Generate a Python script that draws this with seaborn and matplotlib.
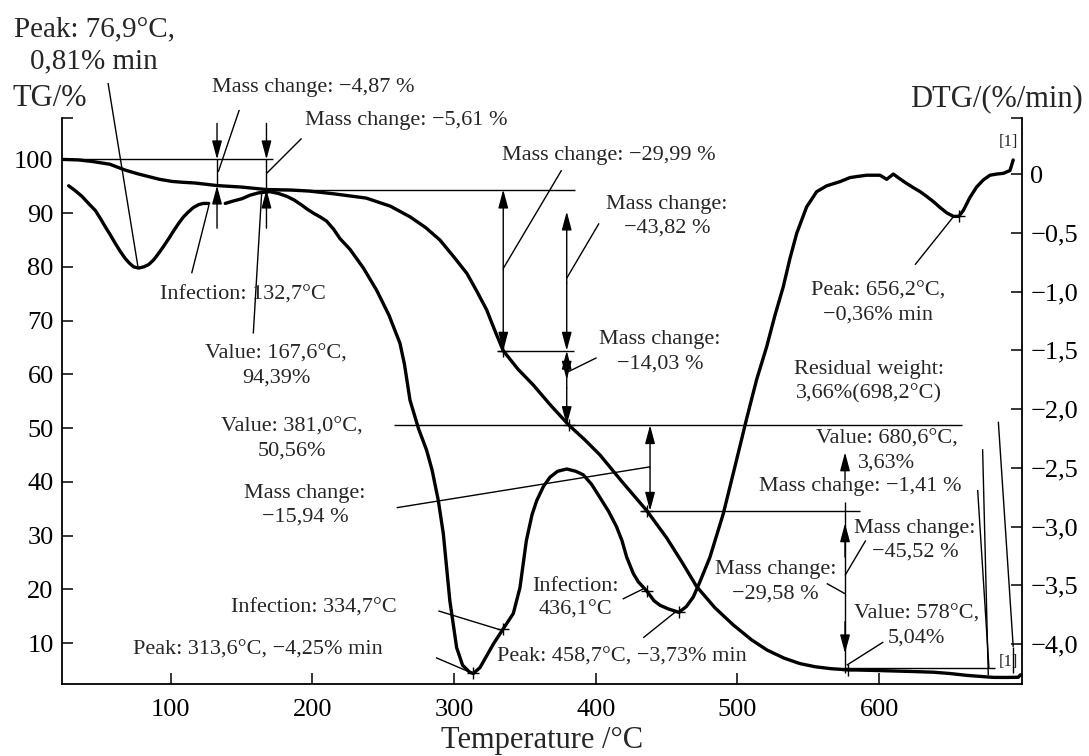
import numpy as np
import pandas as pd
import matplotlib
matplotlib.use("Agg")
import matplotlib.pyplot as plt
import seaborn as sns

# ---------------- data ----------------
tg_temp = [23, 35, 45, 57, 68, 77, 84.5, 92, 100.9, 108, 117.4, 132.7, 150, 167.6, 185,
           198, 215, 238, 255, 269, 280, 290, 300, 309, 316, 323, 329, 334.7, 345, 356,
           368, 381, 392, 403, 418, 436.1, 450, 461, 471, 484, 497, 510, 521, 533, 544,
           555, 566, 578, 600, 620, 638, 650, 662, 672, 680.6, 690, 698.2, 699.6]
tg_mass = [100.0, 99.9, 99.6, 99.1, 98.0, 97.3, 96.8, 96.3, 95.9, 95.75, 95.6, 95.13,
           94.85, 94.39, 94.3, 94.1, 93.6, 92.8, 91.3, 89.3, 87.3, 85.0, 81.8, 78.8,
           75.5, 72.0, 68.0, 64.4, 61.0, 58.0, 54.3, 50.56, 47.9, 45.0, 40.2, 34.62,
           29.6, 25.0, 20.6, 16.6, 13.4, 10.6, 8.7, 7.2, 6.2, 5.6, 5.25, 5.04, 4.9,
           4.75, 4.6, 4.35, 4.0, 3.8, 3.63, 3.62, 3.66, 4.1]

dtg_temp = [28, 32.5, 37.4, 42, 46.8, 50.5, 53.9, 57.5, 60.9, 64.5, 68, 71, 73.9, 77.4,
            81, 84.5, 88, 91.5, 95, 98.6, 102, 105.6, 109, 112.7, 116, 119.8, 123, 126.8,
            138.5, 144, 150.3, 156, 162, 170, 176, 182, 187, 192, 196.5, 201, 205.5, 210,
            215, 219.5, 226.5, 236, 245.4, 254, 261.8, 265, 268.9, 275, 280.6, 284.5,
            288.9, 292.4, 297, 301.8, 306, 311, 313.6, 318.3, 323, 327.7, 334.7, 341.8,
            346.5, 351, 355, 358.3, 363, 367.7, 373, 379.5, 386, 391.2, 397, 402.8, 409,
            414.6, 418.5, 421.8, 426.5, 430, 436.1, 441, 445.3, 451, 458.7, 464, 468.8,
            473.5, 480.6, 490, 498, 506.5, 513.5, 520.6, 526.5, 532.3, 537, 541.8, 548.8,
            555.9, 563, 572.3, 579.4, 585, 591.2, 600.6, 605.3, 610, 614.5, 619.4, 624,
            628.9, 633.5, 638.3, 643, 647.7, 652.3, 656.2, 659.4, 664, 668.8, 673.5,
            678.2, 683, 687.6, 692.3, 694.6]
dtg_rate = [-0.10, -0.14, -0.19, -0.25, -0.31, -0.38, -0.45, -0.52, -0.59, -0.66, -0.72,
            -0.76, -0.79, -0.80, -0.79, -0.77, -0.73, -0.675, -0.615, -0.55, -0.485,
            -0.42, -0.365, -0.32, -0.285, -0.26, -0.25, -0.25,
            -0.25, -0.23, -0.21, -0.18, -0.16, -0.15, -0.165, -0.19, -0.22, -0.26,
            -0.30, -0.335, -0.365, -0.40, -0.47, -0.55, -0.64, -0.80, -0.99, -1.20,
            -1.44, -1.62, -1.925, -2.17, -2.35, -2.52, -2.78, -3.06, -3.63, -4.03,
            -4.18, -4.24, -4.25, -4.20, -4.10, -4.00, -3.87, -3.74, -3.52, -3.12,
            -2.90, -2.78, -2.66, -2.58, -2.53, -2.51, -2.53, -2.56, -2.64, -2.75,
            -2.87, -3.00, -3.12, -3.26, -3.40, -3.47, -3.55, -3.63, -3.67, -3.70,
            -3.73, -3.68, -3.60, -3.47, -3.26, -2.89, -2.50, -2.08, -1.75, -1.47,
            -1.20, -0.96, -0.72, -0.505, -0.28, -0.15, -0.10, -0.065, -0.03, -0.02,
            -0.01, -0.01, -0.045, 0.0, -0.04, -0.08, -0.115, -0.15, -0.19, -0.235,
            -0.285, -0.33, -0.36, -0.36, -0.31, -0.20, -0.11, -0.05, -0.01, 0.0,
            0.006, 0.03, 0.12]

# marked points
tg_mark_temp = [334.7, 381.0, 436.1, 578.0]
tg_mark_mass = [64.4, 50.56, 34.62, 5.04]
dtg_mark_temp = [313.6, 334.7, 436.1, 458.7, 656.2]
dtg_mark_rate = [-4.25, -3.87, -3.55, -3.73, -0.36]

x_ticks = [100, 200, 300, 400, 500, 600]
tg_ticks = [10, 20, 30, 40, 50, 60, 70, 80, 90, 100]
dtg_ticks = [0, -0.5, -1.0, -1.5, -2.0, -2.5, -3.0, -3.5, -4.0]
dtg_tick_labels = ["0", "\u22120,5", "\u22121,0", "\u22121,5", "\u22122,0",
                   "\u22122,5", "\u22123,0", "\u22123,5", "\u22124,0"]

x_lim = (23.3, 700.8)
tg_lim = (2.4, 107.7)
dtg_lim = (-4.34, 0.477)

# ---------------- figure ----------------
sns.set_theme(style="ticks")
plt.rcParams["font.family"] = ["Liberation Serif", "DejaVu Serif"]

fig = plt.figure(figsize=(10.89, 7.56), dpi=100)
ax = fig.add_axes([62 / 1089, 72 / 756, 960 / 1089, 566 / 756])
ax2 = ax.twinx()

tg_df = pd.DataFrame({"T": tg_temp, "TG": tg_mass})
dtg_df = pd.DataFrame({"T": dtg_temp, "DTG": dtg_rate})
dtg_df["segment"] = (dtg_df["T"] > 132.7).astype(int)

sns.lineplot(data=tg_df, x="T", y="TG", ax=ax, color="black", lw=2.4, zorder=5)
sns.lineplot(data=dtg_df, x="T", y="DTG", units="segment", estimator=None,
             ax=ax2, color="black", lw=2.4, zorder=5)
sns.scatterplot(x=tg_mark_temp, y=tg_mark_mass, ax=ax, marker="+", s=70,
                color="black", linewidth=1.0, zorder=6)
sns.scatterplot(x=dtg_mark_temp, y=dtg_mark_rate, ax=ax2, marker="+", s=70,
                color="black", linewidth=1.0, zorder=6)

LW = 1.0
FS = 16


def seg(x0, y0, x1, y1):
    ax.plot([x0, x1], [y0, y1], color="black", lw=LW, solid_capstyle="butt",
            clip_on=False, zorder=4)


def arr(x0, y0, x1, y1, style="-|>"):
    ax.annotate("", xy=(x1, y1), xytext=(x0, y0), annotation_clip=False,
                arrowprops=dict(arrowstyle=style + ",head_length=0.75,head_width=0.2",
                                mutation_scale=15, lw=LW, color="black",
                                shrinkA=0, shrinkB=0), zorder=4)


def txt(x, y, s, ha="center", fs=FS, ls=1.35):
    ax.text(x, y, s, ha=ha, va="center", fontsize=fs, linespacing=ls,
            multialignment="center", clip_on=False, zorder=7)


M = "\u2212"
# top-left peak
txt(45.9, 121.2, "Peak: 76,9°C,\n0,81% min", fs=21, ls=1.33)
seg(55.8, 114.2, 77.1, 79.7)
# axis titles
txt(-11.3, 111.4, "TG/%", ha="left", fs=22)
txt(743.8, 111.3, "DTG/(%/min)", ha="right", fs=22)

# first two steps
seg(23.3, 100, 172.0, 100)
for xv, yv in [(132.7, 95.13), (167.6, 94.39)]:
    arr(xv, 106.7, xv, 100)
    seg(xv, 100, xv, yv)
    arr(xv, 87.2, xv, yv)
txt(129.1, 113.3, "Mass change: " + M + "4,87 %", ha="left")
seg(148.4, 109.2, 133.6, 97.7)
txt(194.8, 107.2, "Mass change: " + M + "5,61 %", ha="left")
seg(192.4, 103.9, 167.7, 97.4)
txt(92.4, 74.8, "Infection: 132,7°C", ha="left")
seg(114.8, 78.8, 127.0, 91.5)
txt(174.3, 61.5, "Value: 167,6°C,\n94,39%")
seg(158.3, 67.6, 164.2, 93.7)

# 94.39 line and step to 64.4
seg(167.6, 94.39, 385.3, 94.39)
arr(334.7, 79.5, 334.7, 94.39)
arr(334.7, 79.5, 334.7, 64.4)
seg(331.0, 64.4, 384.6, 64.4)
txt(333.8, 100.8, "Mass change: " + M + "29,99 %", ha="left")
seg(375.9, 98.0, 334.7, 79.7)

arr(379.5, 77.0, 379.5, 90.3)
arr(379.5, 77.0, 379.5, 64.4)
arr(379.5, 57.5, 379.5, 64.4)
arr(379.5, 57.5, 379.5, 50.56)
arr(379.5, 62.0, 379.5, 59.0)
txt(450.2, 89.4, "Mass change:\n" + M + "43,82 %")
seg(402.3, 88.1, 379.5, 77.9)
txt(445.3, 64.2, "Mass change:\n" + M + "14,03 %")
seg(400.6, 63.1, 380.6, 60.5)

# 50.56 line
seg(257.6, 50.56, 658.2, 50.56)
txt(185.6, 47.9, "Value: 381,0°C,\n50,56%")
txt(194.8, 35.7, "Mass change:\n" + M + "15,94 %")
seg(259.5, 35.2, 438.3, 42.8)
arr(438.3, 42.6, 438.3, 50.56)
arr(438.3, 42.6, 438.3, 34.62)
seg(431.3, 34.62, 586.5, 34.62)

# DTG peaks
txt(142.6, 16.5, "Infection: 334,7°C", ha="left")
seg(288.9, 16.0, 333.6, 12.4)
txt(73.4, 8.8, "Peak: 313,6°C, " + M + "4,25% min", ha="left")
seg(287.2, 7.3, 311.2, 4.6)
txt(385.7, 18.3, "Infection:\n436,1°C")
seg(419.0, 18.2, 433.5, 20.1)
txt(330.3, 7.5, "Peak: 458,7°C, " + M + "3,73% min", ha="left")
seg(433.5, 11.0, 457.1, 16.0)
txt(599.2, 73.2, "Peak: 656,2°C,\n" + M + "0,36% min")
seg(625.3, 80.4, 652.3, 89.3)

# right-hand annotations
txt(592.8, 58.7, "Residual weight:\n3,66%(698,2°C)")
txt(605.5, 45.8, "Value: 680,6°C,\n3,63%")
arr(575.9, 40.3, 575.9, 45.5)
txt(515.2, 39.1, "Mass change: " + M + "1,41 %", ha="left")
seg(575.9, 36.3, 575.9, 4.4)
arr(575.9, 26.0, 575.9, 32.3)
arr(575.9, 14.0, 575.9, 8.1)
txt(625.3, 29.1, "Mass change:\n" + M + "45,52 %")
seg(590.5, 29.1, 575.9, 22.6)
txt(526.8, 21.4, "Mass change:\n" + M + "29,58 %")
seg(563.0, 21.1, 575.9, 19.2)
txt(626.3, 13.2, "Value: 578°C,\n5,04%")
seg(602.9, 10.2, 577.1, 5.9)
seg(575.9, 5.3, 681.7, 5.3)
seg(673.0, 46.1, 677.0, 4.0)
seg(669.5, 38.5, 677.5, 5.3)
seg(684.1, 51.2, 694.6, 9.3)
seg(694.6, 9.3, 694.6, 4.4)
txt(690.9, 103.3, "[1]", fs=12)
txt(690.9, 6.5, "[1]", fs=12)

# ---------------- axes styling ----------------
ax.set_xlim(*x_lim)
ax.set_ylim(*tg_lim)
ax2.set_ylim(*dtg_lim)
ax.set_xticks(x_ticks)
ax.set_xticklabels([str(v) for v in x_ticks])
ax.set_yticks(tg_ticks)
ax.set_yticklabels([str(v) for v in tg_ticks])
ax.set_yticks([tg_lim[1]], minor=True)
ax2.set_yticks(dtg_ticks)
ax2.set_yticklabels(dtg_tick_labels)
ax2.set_yticks([dtg_lim[1]], minor=True)
ax.set_ylabel("")
ax2.set_ylabel("")
ax.set_xlabel("Temperature /°C", fontsize=22)
ax.xaxis.set_label_coords(0.5, -0.1)
ax.xaxis.label.set_va("center")

for a in (ax, ax2):
    a.tick_params(axis="both", which="both", direction="in", length=8, width=1.1,
                  color="black", labelsize=19, labelcolor="black")
    a.spines["top"].set_visible(False)
    for s in a.spines.values():
        s.set_linewidth(1.3)
        s.set_color("black")
    a.grid(False)
ax.tick_params(axis="x", pad=11)
ax.tick_params(axis="y", pad=6, right=False)
ax2.tick_params(axis="y", pad=6, left=False)
ax.spines["right"].set_visible(False)
ax2.spines["left"].set_visible(False)
ax2.spines["bottom"].set_visible(False)

fig.savefig("out.png", dpi=100)
